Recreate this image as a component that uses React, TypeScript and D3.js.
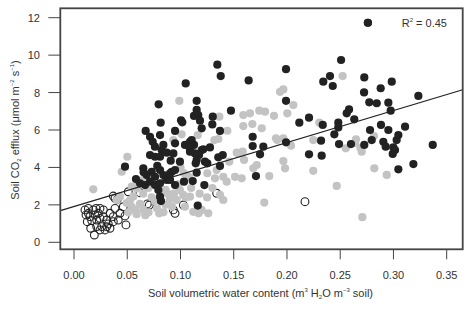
import React from "react";
import * as d3 from "d3";

// Filled black series [soil water content, CO2 efflux]
const darkPoints: [number, number][] = [
  [0.276, 11.73], [0.2508, 9.74], [0.1346, 9.49], [0.1378, 8.88], [0.1049, 8.49], [0.164, 8.65],
  [0.1991, 9.25], [0.2404, 8.88], [0.2341, 8.58], [0.243, 8.35], [0.2726, 8.81], [0.2724, 8.01],
  [0.288, 8.23], [0.2984, 8.58], [0.3234, 7.82], [0.1991, 7.56], [0.0795, 7.37], [0.1152, 7.56],
  [0.2773, 7.48], [0.2843, 7.43], [0.2952, 7.46], [0.2974, 7.03], [0.2583, 7.1], [0.2561, 6.89],
  [0.2632, 6.57], [0.1474, 7.03], [0.1152, 7.07], [0.1167, 6.8], [0.1127, 6.75], [0.1303, 6.71],
  [0.1299, 6.3], [0.2207, 6.66], [0.2116, 6.39], [0.2336, 6.27], [0.2482, 6.39], [0.2482, 6.14],
  [0.2445, 5.77], [0.278, 6.0], [0.2883, 6.27], [0.2952, 6.0], [0.3109, 6.18], [0.3046, 5.73],
  [0.303, 5.46], [0.0814, 6.39], [0.1005, 6.52], [0.1017, 6.41], [0.1183, 6.5], [0.1199, 6.09],
  [0.1371, 5.95], [0.0949, 5.95], [0.0673, 5.95], [0.0714, 5.64], [0.0739, 5.37], [0.0808, 5.73],
  [0.0839, 5.2], [0.0823, 4.93], [0.0949, 5.29], [0.1105, 5.46], [0.1127, 5.2], [0.1089, 4.97],
  [0.1214, 4.97], [0.1277, 5.07], [0.1174, 4.66], [0.1152, 4.4], [0.0714, 4.66], [0.0761, 4.57],
  [0.0808, 4.57], [0.0871, 4.79], [0.0908, 4.36], [0.0995, 4.31], [0.1355, 4.54], [0.1397, 4.66],
  [0.1371, 4.08], [0.1252, 4.22], [0.0479, 4.04], [0.0651, 3.95], [0.0782, 4.08], [0.0933, 4.75],
  [0.1042, 5.2], [0.1089, 5.37], [0.1089, 4.84], [0.1136, 4.75], [0.1199, 4.93], [0.1143, 4.22],
  [0.123, 4.31], [0.1678, 5.64], [0.1678, 5.14], [0.1747, 4.7], [0.1778, 5.11], [0.1991, 5.34],
  [0.1709, 3.54], [0.0918, 3.77], [0.0902, 3.33], [0.1033, 3.24], [0.1115, 3.27], [0.0949, 3.06],
  [0.1152, 3.72], [0.1224, 3.06], [0.1162, 1.96], [0.232, 5.43], [0.2489, 5.25], [0.2601, 5.25],
  [0.2726, 5.2], [0.2796, 5.46], [0.2905, 5.37], [0.2927, 5.11], [0.2207, 4.7], [0.2326, 4.63],
  [0.2999, 5.07], [0.3015, 4.93], [0.2993, 4.72], [0.3369, 5.2], [0.3187, 4.18], [0.3046, 3.9],
  [0.0683, 3.59], [0.073, 3.77], [0.0761, 3.5], [0.0808, 3.86], [0.0839, 3.59], [0.0871, 3.33],
  [0.0902, 3.69], [0.062, 3.15], [0.0667, 3.06], [0.0714, 3.24], [0.0761, 3.06], [0.0808, 3.15],
  [0.0792, 2.79], [0.0808, 2.44], [0.0817, 2.2], [0.0654, 3.74], [0.0582, 3.38], [0.076, 5.11],
  [0.0949, 3.86],
];

// Light grey series
const greyPoints: [number, number][] = [
  [0.2523, 8.88], [0.1935, 8.04], [0.1966, 8.17], [0.206, 7.33], [0.0989, 7.56], [0.1653, 6.89],
  [0.159, 6.8], [0.174, 7.03], [0.1794, 6.98], [0.1878, 6.76], [0.2003, 6.89], [0.1365, 6.71],
  [0.159, 6.21], [0.1675, 6.32], [0.1763, 6.09], [0.2304, 6.39], [0.144, 5.96], [0.1162, 5.73],
  [0.1011, 5.77], [0.0933, 5.46], [0.1318, 5.46], [0.1355, 5.52], [0.1909, 5.46], [0.1966, 5.56],
  [0.1897, 5.56], [0.2038, 5.16], [0.2247, 5.46], [0.2648, 5.5], [0.2817, 5.68], [0.2702, 4.84],
  [0.2552, 5.02], [0.264, 5.3], [0.269, 5.05], [0.0501, 4.57], [0.1528, 4.79], [0.1458, 4.31],
  [0.1543, 4.75], [0.1584, 4.84], [0.1597, 4.4], [0.1684, 3.95], [0.1716, 4.13], [0.1966, 4.34],
  [0.1982, 3.95], [0.1834, 3.54], [0.1512, 3.5], [0.1575, 3.42], [0.1402, 3.5], [0.1434, 3.24],
  [0.134, 3.86], [0.1324, 3.42], [0.1252, 3.69], [0.1402, 2.26], [0.1371, 2.53], [0.1787, 2.12],
  [0.1261, 1.55], [0.1026, 2.53], [0.1089, 2.44], [0.0964, 2.26], [0.0995, 2.79], [0.1042, 1.9],
  [0.112, 1.63], [0.1199, 1.73], [0.2247, 3.82], [0.282, 3.95], [0.2937, 3.6], [0.2467, 3.01],
  [0.2708, 1.34], [0.0448, 3.77], [0.0181, 2.83], [0.0542, 2.97], [0.0589, 2.88], [0.0651, 3.33],
  [0.0401, 2.26], [0.0432, 2.44], [0.0495, 2.1], [0.0526, 2.26], [0.0542, 1.9], [0.0573, 1.73],
  [0.0589, 1.5], [0.051, 1.6], [0.0557, 2.45], [0.062, 2.05], [0.065, 1.75], [0.067, 1.45],
  [0.07, 1.6], [0.073, 2.4], [0.076, 2.2], [0.078, 1.8], [0.08, 1.55], [0.084, 1.6], [0.086, 2.0],
  [0.088, 2.6], [0.09, 2.3], [0.086, 2.8], [0.094, 2.6], [0.092, 1.9], [0.065, 2.6], [0.06, 3.05],
  [0.07, 2.9], [0.105, 2.4], [0.11, 2.9], [0.108, 3.5], [0.103, 3.7], [0.1, 4.0], [0.098, 3.1],
  [0.118, 2.6], [0.125, 2.4], [0.13, 2.9], [0.117, 1.55],
];

// Open circle series
const openPoints: [number, number][] = [
  [0.0103, 1.73], [0.0135, 1.81], [0.0182, 1.73], [0.0113, 1.46], [0.015, 1.37], [0.0197, 1.46],
  [0.0229, 1.55], [0.0125, 1.1], [0.0166, 1.16], [0.0213, 1.19], [0.0244, 1.28], [0.0276, 1.37],
  [0.0307, 1.19], [0.0157, 0.75], [0.0213, 0.84], [0.026, 0.84], [0.0307, 0.84], [0.0338, 0.75],
  [0.0191, 0.39], [0.0244, 0.66], [0.0291, 0.66], [0.0322, 0.98], [0.0369, 1.1], [0.0416, 1.19],
  [0.0432, 1.55], [0.0479, 1.41], [0.0488, 0.93], [0.0463, 1.9], [0.0385, 2.35], [0.0369, 1.37],
  [0.0244, 1.81], [0.0276, 1.73], [0.0338, 1.55], [0.0385, 1.81], [0.0135, 1.55], [0.0207, 1.81],
  [0.0369, 2.47], [0.0407, 2.3], [0.062, 2.65], [0.0689, 2.05], [0.0707, 1.99], [0.0933, 1.73],
  [0.0949, 1.55], [0.134, 2.62], [0.2169, 2.17], [0.051, 2.7], [0.1027, 1.99],
];

const xTicks = [0, 0.05, 0.1, 0.15, 0.2, 0.25, 0.3, 0.35];
const yTicks = [0, 2, 4, 6, 8, 10, 12];
const fitIntercept = 1.91;
const fitSlope = 17.1;
const rSquared = "0.45";
const legendPoint: [number, number] = [0.276, 11.73];

export default function App() {
  const W = 474, H = 310;
  const box = { left: 60.3, right: 462.7, top: 8.3, bottom: 249.3 };
  const x = d3.scaleLinear().domain([0, 0.35]).range([74, 446.7]);
  const y = d3.scaleLinear().domain([0, 12]).range([242.3, 17.7]);
  const x0 = x.invert(box.left), x1 = x.invert(box.right);
  const line = d3.line<number>().x((d) => x(d)).y((d) => y(fitIntercept + fitSlope * d));
  const font = "'Liberation Sans', Arial, sans-serif";
  const textCol = "#333";
  const axisCol = "#444";
  const r = 4.1;
  return (
    <svg width={W} height={H} style={{ position: "absolute", left: 0, top: 0, background: "#fff" }} fontFamily={font}>
      {openPoints.map((p, i) => (
        <circle key={"o" + i} cx={x(p[0])} cy={y(p[1])} r={3.9} fill="none" stroke="#222" strokeWidth={1.1} />
      ))}
      {greyPoints.map((p, i) => (
        <circle key={"g" + i} cx={x(p[0])} cy={y(p[1])} r={r} fill="#c3c3c3" />
      ))}
      {darkPoints.map((p, i) => (
        <circle key={"d" + i} cx={x(p[0])} cy={y(p[1])} r={r} fill="#222" />
      ))}
      <path d={line([x0, x1]) || ""} stroke="#222" strokeWidth={1.2} fill="none" />
      <rect x={box.left} y={box.top} width={box.right - box.left} height={box.bottom - box.top}
        fill="none" stroke={axisCol} strokeWidth={1.8} />
      {xTicks.map((t) => (
        <g key={"xt" + t}>
          <line x1={x(t)} x2={x(t)} y1={box.bottom} y2={box.bottom + 10} stroke={axisCol} strokeWidth={1} />
          <text x={x(t)} y={279} fontSize={11} textAnchor="middle" fill={textCol}>{t.toFixed(2)}</text>
        </g>
      ))}
      {yTicks.map((t) => (
        <g key={"yt" + t}>
          <line x1={box.left - 12} x2={box.left} y1={y(t)} y2={y(t)} stroke={axisCol} strokeWidth={1} />
          <text x={40} y={y(t) + 4} fontSize={11} textAnchor="end" fill={textCol}>{t}</text>
        </g>
      ))}
      <text x={260.5} y={297} fontSize={11} textAnchor="middle" fill={textCol}>
        Soil volumetric water content (m<tspan fontSize={6} dy={-5}>3</tspan>
        <tspan dy={5}> H</tspan><tspan fontSize={6} dy={2}>2</tspan>
        <tspan dy={-2}>O m</tspan><tspan fontSize={6} dy={-5}>−3</tspan>
        <tspan dy={5}> soil)</tspan>
      </text>
      <text transform="translate(19,130) rotate(-90)" fontSize={11} textAnchor="middle" fill={textCol}>
        Soil CO<tspan fontSize={6} dy={2}>2</tspan>
        <tspan dy={-2}> efflux (μmol m</tspan><tspan fontSize={6} dy={-5}>−2</tspan>
        <tspan dy={5}> s</tspan><tspan fontSize={6} dy={-5}>−1</tspan>
        <tspan dy={5}>)</tspan>
      </text>
      <circle cx={x(legendPoint[0])} cy={y(legendPoint[1])} r={r} fill="#222" />
      <text x={401.7} y={27} fontSize={11} fill={textCol}>
        R<tspan fontSize={6} dy={-5}>2</tspan><tspan dy={5}> = {rSquared}</tspan>
      </text>
    </svg>
  );
}
